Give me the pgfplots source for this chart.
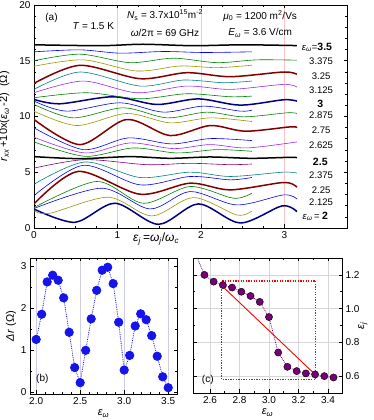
\documentclass[border=0pt]{standalone}
\usepackage{fontspec}
\setmainfont{Liberation Sans}
\usepackage{pgfplots}
\pgfplotsset{compat=1.18}

\definecolor{cnavy}{RGB}{0,0,128}
\definecolor{colive}{RGB}{150,150,0}
\definecolor{cblue}{RGB}{0,0,255}
\definecolor{cgreen}{RGB}{0,128,0}
\definecolor{cwine}{RGB}{128,0,0}
\definecolor{cteal}{RGB}{0,128,128}
\definecolor{cpurple}{RGB}{128,0,128}
\definecolor{cviolet}{RGB}{150,40,255}
\definecolor{cpink}{RGB}{255,195,195}
\definecolor{clav}{RGB}{205,205,230}
\definecolor{cgrid}{RGB}{215,215,215}
\definecolor{cdot}{RGB}{120,0,120}
\definecolor{cmark}{RGB}{20,20,235}
\definecolor{cred}{RGB}{255,0,0}

\newcommand{\eps}[1]{\textit{ε}\textsubscript{\textit{#1}}}

\pgfplotsset{
  panel/.style={
    scale only axis, anchor=south west,
    axis line style={line width=0.8pt},
    tick align=inside, xtick pos=both, ytick pos=both,
    major tick length=3.5pt, minor tick length=2pt,
    every tick/.style={black, line width=0.6pt},
    tick label style={font=\fontsize{10}{12}\selectfont},
    label style={font=\fontsize{11}{13}\selectfont},
    /pgf/number format/assume math mode=true,
  },
  thin/.style={line width=0.6pt, smooth},
  thk/.style={line width=1.5pt, smooth},
}

\begin{document}
\begin{tikzpicture}
\useasboundingbox (0,0) rectangle (374pt,420pt);

% ---------------- panel (a)
\begin{axis}[panel, at={(34pt,192pt)}, width=313pt, height=223pt,
  xmin=0, xmax=3.75, ymin=0, ymax=20,
  xtick={0,1,2,3}, minor x tick num=3,
  ytick={0,5,10,15,20}, minor y tick num=4,
  xmajorgrids, major grid style={cpink, line width=0.5pt},
  xlabel={\fontsize{12}{14}\selectfont\eps{j}\,=\textit{ω}\textsubscript{\textit{j}}/\textit{ω}\textsubscript{\textit{c}}},
  xlabel style={at={(axis description cs:0.39,0)}, anchor=north, yshift=-1pt},
  ylabel={\textit{r}\textsubscript{\textit{xx}}\,+10x(\eps{ω}\,-2)~~(Ω)},
  ylabel style={yshift=3pt},
]
% eps_w = 2.0 ... 2.4375
\addplot[thk, cnavy] coordinates {(0,1.7)(0.49,0.51)(0.97,2.22)(1.49,0.33)(1.97,2.16)(2.47,0.45)(2.97,1.98)(3.15,1.47)};
\addplot[thin, colive] coordinates {(0,1.55)(0.19,1.32)(0.89,2.76)(1.41,1.08)(1.91,2.73)(2.43,1.17)(2.61,1.53)};
\addplot[thin, cblue] coordinates {(0,1.75)(0.81,3.57)(1.39,1.71)(1.87,3.27)(2.43,2.07)(2.99,2.97)(3.15,2.61)};
\addplot[thin, cgreen] coordinates {(0,1.83)(0.75,4.17)(1.31,2.22)(1.87,3.72)(2.39,2.67)(2.61,3.12)};
\addplot[thk, cwine] coordinates {(0,2.16)(0.53,5.07)(1.27,3.03)(1.87,4.02)(2.35,3.42)(2.99,4.08)(3.15,3.66)};
\addplot[thin, cblue] coordinates {(0,2.91)(0.59,5.62)(1.27,3.87)(1.87,4.62)(2.35,4.32)(2.61,4.53)};
\addplot[thin, cteal] coordinates {(0,3.93)(0.61,5.92)(1.27,4.53)(1.87,5.01)(2.35,4.62)(2.99,5.01)(3.15,4.92)};
\addplot[thin, cpurple] coordinates {(0,5.37)(0.61,6.13)(1.35,5.68)(1.87,5.8)(2.35,5.68)(2.61,5.74)};
% eps_w = 2.5 ... 2.9375
\addplot[thk, black] coordinates {(0,6.4)(0.55,6.22)(1.15,6.4)(1.63,6.25)(2.11,6.37)(2.6,6.25)(3.07,6.34)(3.15,6.3)};
\addplot[thin, cgreen] coordinates {(0,7.72)(0.61,6.43)(1.19,7.18)(1.71,6.73)(2.19,7.03)(2.61,6.88)};
\addplot[thin, cviolet] coordinates {(0,8.14)(0.61,6.73)(1.15,7.63)(1.67,7.12)(2.11,7.48)(2.55,7.18)(3.15,7.72)};
\addplot[thin, cblue] coordinates {(0,8.98)(0.59,7.03)(1.13,8.08)(1.65,7.54)(2.11,8.02)(2.61,7.84)};
\addplot[thk, cwine] coordinates {(0,9.73)(0.55,7.48)(1.11,9.73)(1.63,8.29)(2.11,9.19)(2.53,8.68)(3.07,9.07)(3.15,9.0)};
\addplot[thin, colive] coordinates {(0,10.48)(0.51,9.19)(1.11,10.27)(1.63,9.43)(2.11,9.88)(2.61,9.55)};
\addplot[thin, cgreen] coordinates {(0,11.08)(0.47,9.88)(1.07,10.78)(1.59,9.88)(2.07,10.39)(2.51,9.97)(3.03,10.33)(3.15,10.27)};
\addplot[thin, cblue] coordinates {(0,11.38)(0.39,10.48)(1.03,11.23)(1.55,10.39)(2.03,10.93)(2.47,10.48)(2.61,10.57)};
% eps_w = 3.0 ... 3.5
\addplot[thk, cnavy] coordinates {(0,11.53)(0.31,11.14)(0.95,11.77)(1.47,11.08)(1.97,11.58)(2.47,11.02)(2.99,11.5)(3.15,11.38)};
\addplot[thin, cgreen] coordinates {(0,11.68)(0.63,12.13)(1.27,11.59)(1.83,12.04)(2.35,11.77)(2.61,11.83)};
\addplot[thin, cviolet] coordinates {(0,12.13)(0.59,13.18)(1.23,12.13)(1.83,12.73)(2.35,12.43)(2.99,12.88)(3.15,12.64)};
\addplot[thin, cteal] coordinates {(0,12.43)(0.55,13.99)(1.27,12.73)(1.79,13.27)(2.27,13.03)(2.61,13.18)};
\addplot[thk, cwine] coordinates {(0,12.97)(0.55,14.59)(1.27,13.39)(1.83,13.93)(2.35,13.57)(2.99,13.99)(3.15,13.78)};
\addplot[thin, colive] coordinates {(0,14.5)(0.59,15.08)(1.23,14.08)(1.75,14.53)(2.19,14.38)(2.61,14.6)};
\addplot[thin, cgreen] coordinates {(0,15.0)(0.55,15.59)(1.15,14.83)(1.67,15.23)(2.19,14.83)(2.67,15.08)(3.15,15.05)};
\addplot[thin, cblue] coordinates {(0,15.8)(0.55,15.98)(1.03,15.68)(1.55,15.83)(2.03,15.74)(2.61,15.8)};
\addplot[thk, black] coordinates {(0,16.43)(0.8,16.35)(1.3,16.48)(1.9,16.35)(2.5,16.43)(3.15,16.36)};

\begin{scope}[font=\fontsize{10}{12}\selectfont]
\node at (axis cs:0.21,18.8) {(a)};
\node at (axis cs:0.71,18.1) {\textit{T} = 1.5 K};
\node at (axis cs:1.57,19.1) {\textit{N}\textsubscript{s} = 3.7x10\textsuperscript{15}m\textsuperscript{-2}};
\node at (axis cs:1.57,17.5) {\textit{ω}/2π = 69 GHz};
\node at (axis cs:2.71,19.0) {\textit{μ}\textsubscript{0} = 1200 m\textsuperscript{2}/Vs};
\node at (axis cs:2.71,17.5) {\textit{E}\textsubscript{\textit{ω}} = 3.6 V/cm};
\end{scope}
\begin{scope}[font=\fontsize{9.5}{11}\selectfont]
\node at (axis cs:3.39,16.24) {\eps{ω}=\textbf{\fontsize{10.5}{12}\selectfont 3.5}};
\node at (axis cs:3.44,14.98) {3.375};
\node at (axis cs:3.44,13.57) {3.25};
\node at (axis cs:3.44,12.34) {3.125};
\node at (axis cs:3.43,11.17) {\textbf{\fontsize{10.5}{12}\selectfont 3}};
\node at (axis cs:3.44,10.09) {2.875};
\node at (axis cs:3.44,8.77) {2.75};
\node at (axis cs:3.44,7.42) {2.625};
\node at (axis cs:3.43,5.92) {\textbf{\fontsize{10.5}{12}\selectfont 2.5}};
\node at (axis cs:3.44,4.71) {2.375};
\node at (axis cs:3.44,3.36) {2.25};
\node at (axis cs:3.44,2.31) {2.125};
\node at (axis cs:3.37,1.08) {\eps{ω}\,= \textbf{\fontsize{10.5}{12}\selectfont 2}};
\end{scope}
\end{axis}

% ---------------- panel (b)
\begin{axis}[panel, at={(30pt,26pt)}, width=147pt, height=136pt,
  xmin=1.93, xmax=3.6, ymin=-0.05, ymax=3.19,
  xtick={2,2.5,3,3.5}, minor x tick num=4,
  ytick={0,1,2,3}, minor y tick num=1,
  xticklabel style={/pgf/number format/.cd, fixed, fixed zerofill, precision=1},
  xmajorgrids, major grid style={clav, line width=0.6pt},
  xlabel={\eps{ω}}, ylabel={\textit{Δr} (Ω)},
  xlabel style={yshift=2pt}, ylabel style={yshift=-2pt},
]
\addplot[cmark, densely dotted, line width=0.8pt, mark=*, mark size=4.2pt,
  mark options={solid, draw=none, fill=cmark}] coordinates {
(2.0,1.25)(2.0625,1.85)(2.125,2.62)(2.1875,2.78)(2.25,2.66)(2.3125,2.24)(2.375,1.42)
(2.4375,0.58)(2.5,0.22)(2.5625,0.99)(2.625,1.74)(2.6875,2.42)(2.75,2.9)(2.8125,2.97)
(2.875,2.58)(2.9375,1.66)(3.0,0.52)(3.0625,0.87)(3.125,1.57)(3.1875,1.86)(3.25,1.72)
(3.3125,1.34)(3.375,0.85)(3.4375,0.36)(3.5,0.1)};
\node[font=\fontsize{10}{12}\selectfont] at (axis cs:2.07,0.3) {(b)};
\end{axis}

% ---------------- panel (c)
\begin{axis}[panel, at={(193pt,27pt)}, width=149pt, height=135pt,
  xmin=2.485, xmax=3.495, ymin=0.5, ymax=1.3,
  xtick={2.6,2.8,3.0,3.2,3.4}, minor x tick num=1,
  ytick={0.6,0.8,1.0,1.2}, minor y tick num=1,
  ytick pos=both, yticklabel pos=right,
  ticklabel style={/pgf/number format/.cd, fixed, fixed zerofill, precision=1},
  grid=major, major grid style={cgrid, line width=0.5pt},
  xlabel={\eps{ω}}, ylabel={\eps{j}},
  xlabel style={yshift=2pt},
  ylabel style={at={(axis description cs:1.14,0.5)}, anchor=center},
]
\addplot[cdot, densely dotted, line width=0.8pt] coordinates {
(2.5,1.33)(2.5625,1.20)(2.625,1.16)(2.6875,1.14)(2.75,1.125)(2.8125,1.10)(2.875,1.075)
(2.9375,1.04)(3.0,0.95)(3.0625,0.74)(3.125,0.655)(3.1875,0.63)(3.25,0.616)(3.3125,0.61)
(3.375,0.60)(3.4375,0.592)};
\draw[cred, line width=1.2pt, dash pattern=on 1.3pt off 1.3pt]
  (axis cs:2.68,0.582) rectangle (axis cs:3.317,1.164);
\addplot[draw=cred, line width=0.9pt] coordinates {(2.6875,1.13)(3.3125,0.61)};
\addplot[only marks, mark=*, mark size=3.6pt, mark options={draw=none, fill=cdot}] coordinates {
(2.5625,1.20)(2.625,1.16)(2.6875,1.14)(2.75,1.125)(2.8125,1.10)(2.875,1.075)
(2.9375,1.04)(3.0,0.95)(3.0625,0.74)(3.125,0.655)(3.1875,0.63)(3.25,0.616)(3.3125,0.61)
(3.375,0.60)(3.4375,0.592)};
\node[font=\fontsize{10}{12}\selectfont] at (axis cs:2.585,0.576) {(c)};
\end{axis}
\end{tikzpicture}
\end{document}
